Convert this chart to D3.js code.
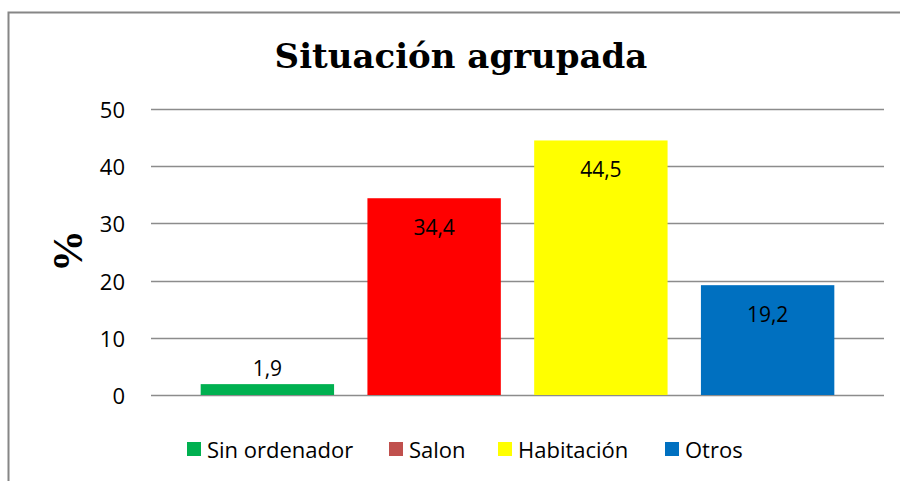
<!DOCTYPE html>
<html>
<head>
<meta charset="utf-8">
<script src="https://cdn.jsdelivr.net/npm/d3@7"></script>
<style>
  body { margin: 0; background: #fff; }
</style>
</head>
<body>
<div id="chart"></div>
<script>
// chart data
let categories = ["Sin ordenador", "Salon", "Habitación", "Otros"];
let values = [1.9, 34.4, 44.5, 19.2];
let labels = ["1,9", "34,4", "44,5", "19,2"];
let barColors = ["#00B050", "#FF0000", "#FFFF00", "#0070C0"];
let legendColors = ["#00B050", "#C0504D", "#FFFF00", "#0070C0"];
let yTicks = [0, 10, 20, 30, 40, 50];

let width = 900, height = 481;
let labelFont = "'Open Sans', 'Noto Sans', sans-serif";

let svg = d3.select("#chart")
    .append("svg")
    .attr("width", width)
    .attr("height", height);

// outer frame of the chart
svg.append("rect")
    .attr("x", 8.5).attr("y", 12.5)
    .attr("width", 900).attr("height", 480)
    .attr("fill", "none")
    .attr("stroke", "#868686")
    .attr("stroke-width", 2);

// scales
let y = d3.scaleLinear().domain([0, 50]).range([395, 109]);
let x = d3.scaleBand()
    .domain(categories)
    .range([184, 851])
    .paddingInner(0.2)
    .paddingOuter(0.1);

// gridlines
svg.append("g")
    .selectAll("line")
    .data(yTicks)
    .enter()
    .append("line")
    .attr("x1", 151).attr("x2", 884)
    .attr("y1", d => Math.round(y(d)) + 0.5)
    .attr("y2", d => Math.round(y(d)) + 0.5)
    .attr("stroke", "#8c8c8c")
    .attr("stroke-width", 1.5);

// y axis tick labels
svg.append("g")
    .selectAll("text")
    .data(yTicks)
    .enter()
    .append("text")
    .attr("x", 125)
    .attr("y", d => y(d))
    .attr("text-anchor", "end")
    .attr("dominant-baseline", "central")
    .attr("font-family", labelFont)
    .attr("font-size", 22)
    .attr("fill", "#000")
    .text(d => d);

// bars
svg.append("g")
    .selectAll("rect")
    .data(values)
    .enter()
    .append("rect")
    .attr("x", (d, i) => x(categories[i]))
    .attr("y", d => y(d))
    .attr("width", x.bandwidth())
    .attr("height", d => y(0) - y(d))
    .attr("fill", (d, i) => barColors[i]);

// value labels: inside the top of tall bars, above short ones
svg.append("g")
    .selectAll("text")
    .data(values)
    .enter()
    .append("text")
    .attr("x", (d, i) => x(categories[i]) + x.bandwidth() / 2)
    .attr("y", d => d > 5 ? y(d) + 29 : y(d) - 16)
    .attr("text-anchor", "middle")
    .attr("dominant-baseline", "central")
    .attr("font-family", labelFont)
    .attr("font-size", 21)
    .attr("fill", "#000")
    .text((d, i) => labels[i]);

// title
svg.append("text")
    .attr("x", 461)
    .attr("y", 68)
    .attr("text-anchor", "middle")
    .attr("font-family", "'DejaVu Serif', serif")
    .attr("font-weight", "bold")
    .attr("font-size", 34)
    .text("Situación agrupada");

// y axis title
svg.append("text")
    .attr("transform", "translate(68,251) rotate(-90)")
    .attr("text-anchor", "middle")
    .attr("dominant-baseline", "central")
    .attr("font-family", "'Liberation Serif', serif")
    .attr("font-weight", "bold")
    .attr("font-size", 42)
    .text("%");

// legend
let legendX = [187, 389, 498, 665];
let legend = svg.append("g")
    .selectAll("g")
    .data(categories)
    .enter()
    .append("g")
    .attr("transform", (d, i) => "translate(" + legendX[i] + ",449)");

legend.append("rect")
    .attr("x", 0).attr("y", -7)
    .attr("width", 14).attr("height", 14)
    .attr("fill", (d, i) => legendColors[i]);

legend.append("text")
    .attr("x", 20)
    .attr("y", 0)
    .attr("dominant-baseline", "central")
    .attr("font-family", labelFont)
    .attr("font-size", 22)
    .attr("fill", "#000")
    .text(d => d);
</script>
</body>
</html>
